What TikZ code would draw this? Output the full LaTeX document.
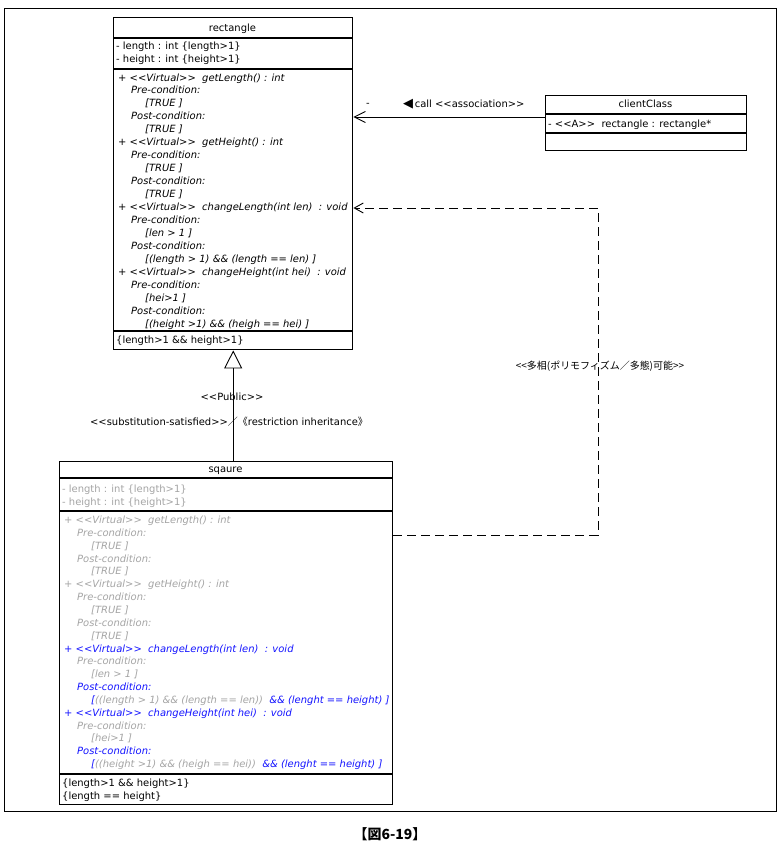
\documentclass[tikz,border=0pt]{standalone}
\usepackage{fontspec}
\setmainfont{DejaVu Sans}[Ligatures=TeXOff]
\newfontfamily\jp{Noto Sans CJK JP}
\usetikzlibrary{arrows.meta}
\definecolor{sqgray}{RGB}{165,165,165}
\definecolor{sqblue}{RGB}{20,20,255}
\begin{document}
\begin{tikzpicture}[x=1bp,y=-1bp,
  txt/.style={font=\fontsize{10}{12}\selectfont, inner sep=0pt, anchor=base west},
  optxt/.style={font=\fontsize{10}{12}\selectfont\itshape, inner sep=0pt, anchor=base west},
  ttl/.style={font=\fontsize{10}{12}\selectfont, inner sep=0pt, anchor=base},
  classbox/.style={draw, line width=1.4bp, anchor=north west, inner sep=0pt},
  sep/.style={line width=1.2bp},
  conn/.style={line width=0.9bp},
]
\fill[white] (0,0) rectangle (780,851);
\useasboundingbox (0,0) rectangle (780,851);
\node[draw, line width=1bp, minimum width=772bp, minimum height=803bp, anchor=north west, inner sep=0pt] (frame) at (4,8) {};

% ---------- rectangle ----------
\node[classbox, minimum width=239bp, minimum height=332bp] (rect) at (113,17) {};
\draw[sep] (rect.west |- 0,38) -- (rect.east |- 0,38);
\draw[sep] (rect.west |- 0,69) -- (rect.east |- 0,69);
\draw[sep] (rect.west |- 0,331) -- (rect.east |- 0,331);
\node[ttl] (rectT) at (232.5,31.5) {rectangle};
\node[txt] (rA1) at (116,49.5) {- length : int \{length>1\}};
\node[txt] (rA2) at (116,62.5) {- height : int \{height>1\}};
\foreach \ind/\txt [count=\i from 0] in {
  0/{+ <<Virtual>>\ \ getLength() : int},
  13/{Pre-condition:},
  27/{[TRUE ]},
  13/{Post-condition:},
  27/{[TRUE ]},
  0/{+ <<Virtual>>\ \ getHeight() : int},
  13/{Pre-condition:},
  27/{[TRUE ]},
  13/{Post-condition:},
  27/{[TRUE ]},
  0/{+ <<Virtual>>\ \ changeLength(int len)\ \ : void},
  13/{Pre-condition:},
  27/{[len > 1 ]},
  13/{Post-condition:},
  27/{[(length > 1) \&\& (length == len) ]},
  0/{+ <<Virtual>>\ \ changeHeight(int hei)\ \ : void},
  13/{Pre-condition:},
  27/{[hei>1 ]},
  13/{Post-condition:},
  27/{[(height >1) \&\& (heigh == hei) ]}
} \node[optxt] (rO\i) at (118+\ind, 81+12.95*\i) {\txt};
\node[txt] (rC) at (116,343.5) {\{length>1 \&\& height>1\}};

% ---------- clientClass ----------
\node[classbox, minimum width=201bp, minimum height=55bp] (client) at (545,95) {};
\draw[sep] (client.west |- 0,114) -- (client.east |- 0,114);
\draw[sep] (client.west |- 0,133) -- (client.east |- 0,133);
\node[ttl] (clientT) at (645.5,107.5) {clientClass};
\node[txt] (cA1) at (548,127.5) {- <<A>>\ \ rectangle : rectangle*};

% ---------- sqaure ----------
\node[classbox, minimum width=333bp, minimum height=343bp] (sq) at (59,461) {};
\draw[sep] (sq.west |- 0,478) -- (sq.east |- 0,478);
\draw[sep] (sq.west |- 0,511) -- (sq.east |- 0,511);
\draw[sep] (sq.west |- 0,774) -- (sq.east |- 0,774);
\node[ttl] (sqT) at (225.5,472.5) {sqaure};
\node[txt, text=sqgray] (sA1) at (62,492.5) {- length : int \{length>1\}};
\node[txt, text=sqgray] (sA2) at (62,505.5) {- height : int \{height>1\}};
\foreach \ind/\col/\txt [count=\i from 0] in {
  0/sqgray/{+ <<Virtual>>\ \ getLength() : int},
  13/sqgray/{Pre-condition:},
  27/sqgray/{[TRUE ]},
  13/sqgray/{Post-condition:},
  27/sqgray/{[TRUE ]},
  0/sqgray/{+ <<Virtual>>\ \ getHeight() : int},
  13/sqgray/{Pre-condition:},
  27/sqgray/{[TRUE ]},
  13/sqgray/{Post-condition:},
  27/sqgray/{[TRUE ]},
  0/sqblue/{+ <<Virtual>>\ \ changeLength(int len)\ \ : void},
  13/sqgray/{Pre-condition:},
  27/sqgray/{[len > 1 ]},
  13/sqblue/{Post-condition:},
  27/sqblue/{[\textcolor{sqgray}{((length > 1) \&\& (length == len))}\ \ \&\& (lenght == height) ]},
  0/sqblue/{+ <<Virtual>>\ \ changeHeight(int hei)\ \ : void},
  13/sqgray/{Pre-condition:},
  27/sqgray/{[hei>1 ]},
  13/sqblue/{Post-condition:},
  27/sqblue/{[\textcolor{sqgray}{((height >1) \&\& (heigh == hei))}\ \ \&\& (lenght == height) ]}
} \node[optxt, text=\col] (sO\i) at (64+\ind, 523.5+12.85*\i) {\txt};
\node[txt] (sC1) at (62,786.5) {\{length>1 \&\& height>1\}};
\node[txt] (sC2) at (62,799.5) {\{length == height\}};

% ---------- generalization ----------
\draw[conn, -{Triangle[open, length=18bp, width=18bp]}] (rect.south |- sq.north) -- (rect.south);
\node[ttl] (pub) at (232,400.5) {<<Public>>};
\node[ttl] (subst) at (229,425.5) {<<substitution-satisfied>>{\jp ／《}restriction inheritance{\jp 》}};

% ---------- association ----------
\coordinate (aS) at (client.west |- 0,117);
\draw[conn, -{Straight Barb[length=11bp, width=11bp]}] (aS) -- (rect.east |- aS);
\node[ttl] (role) at (368,106) {-};
\node[txt] (callL) at (403,107.5) {{\fontsize{13}{13}\selectfont ◀}\,call <<association>>};

% ---------- polymorphism dependency ----------
\coordinate (dS) at (sq.east |- 0,535);
\coordinate (dC1) at (598,535);
\coordinate (dC2) at (598,208);
\draw[conn, dash pattern=on 9bp off 5bp, -{Straight Barb[length=9bp, width=10bp]}] (dS) -- (dC1) -- (dC2) -- (rect.east |- dC2);
\node[ttl] (poly) at (600,369) {\jp <<多相(ポリモフィズム／多態)可能>>};

% ---------- caption ----------
\node[font=\jp\bfseries\fontsize{14}{16}\selectfont, inner sep=0pt, anchor=base] (cap) at (390,839) {【図6-19】};
\end{tikzpicture}
\end{document}
